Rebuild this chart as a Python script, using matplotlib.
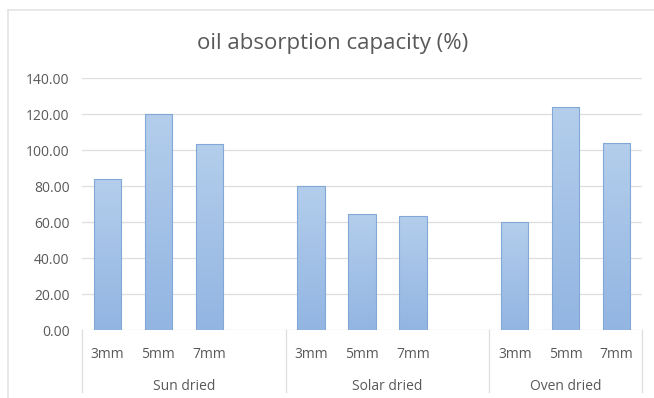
import matplotlib.pyplot as plt
import numpy as np
from matplotlib.patches import Rectangle
from matplotlib.lines import Line2D
from matplotlib.colors import LinearSegmentedColormap

plt.rcParams['font.family'] = ['Open Sans', 'DejaVu Sans']

groups = ['Sun dried', 'Solar dried', 'Oven dried']
sizes = ['3mm', '5mm', '7mm']
sun_dried = [83.9, 120.2, 103.7]
solar_dried = [80.2, 64.4, 63.7]
oven_dried = [60.0, 123.9, 103.9]
y_ticks = [0, 20, 40, 60, 80, 100, 120, 140]

text_col = '#595959'
grid_col = '#dedede'
bar_cmap = LinearSegmentedColormap.from_list('bar', ['#92b5e2', '#b4ceec'])

W, H = 654, 398
fig = plt.figure(figsize=(W / 100, H / 100), dpi=100)
ax = fig.add_axes([82 / W, 1 - 330.3 / H, 560 / W, (330.3 - 78.3) / H])

# outer chart frame (left and top edges only visible)
fig.add_artist(Line2D([8 / W, 8 / W], [0, 1 - 10 / H], color='#e4e4e4', lw=1.2))
fig.add_artist(Line2D([8 / W, 1], [1 - 10 / H, 1 - 10 / H], color='#e4e4e4', lw=1.2))

# each group gets 3 bars plus an empty slot after it (except the last)
all_vals = [sun_dried, solar_dried, oven_dried]
bar_w = 0.54
grad = np.linspace(0, 1, 256).reshape(-1, 1)
for gi, vals in enumerate(all_vals):
    for si, v in enumerate(vals):
        x = gi * 4 + si
        rect = Rectangle((x - bar_w / 2, 0), bar_w, v, facecolor='none',
                         edgecolor='#82a8d7', lw=0.8, zorder=3)
        ax.add_patch(rect)
        im = ax.imshow(grad, cmap=bar_cmap, aspect='auto', origin='lower',
                       extent=(x - bar_w / 2, x + bar_w / 2, 0, v), zorder=2)
        im.set_clip_path(rect)
        ax.text(x, -0.098, sizes[si], transform=ax.get_xaxis_transform(),
                ha='center', va='center', fontsize=10, color=text_col)
    left = gi * 4 - 0.5
    right = min(gi * 4 + 3.5, 10.5)
    ax.text((left + right) / 2, -0.225, groups[gi], transform=ax.get_xaxis_transform(),
            ha='center', va='center', fontsize=10, color=text_col)

for b in [-0.5, 3.5, 7.5, 10.5]:
    ax.add_line(Line2D([b, b], [0, -0.246], transform=ax.get_xaxis_transform(),
                       color=grid_col, lw=0.9, clip_on=False))

for t in y_ticks:
    ax.axhline(t, color=grid_col, lw=0.9, zorder=1)

ax.set_xlim(-0.5, 10.5)
ax.set_ylim(0, 140)
ax.set_yticks(y_ticks)
ax.set_yticklabels([f'{t:.2f}' for t in y_ticks])
ax.set_xticks([])
ax.tick_params(axis='y', length=0, pad=9, labelsize=10, labelcolor=text_col)
for s in ax.spines.values():
    s.set_visible(False)

fig.text(333 / W, 1 - 44 / H, 'oil absorption capacity (%)', ha='center', va='center',
         fontsize=16, color=text_col)

fig.savefig('out.png', dpi=100)
